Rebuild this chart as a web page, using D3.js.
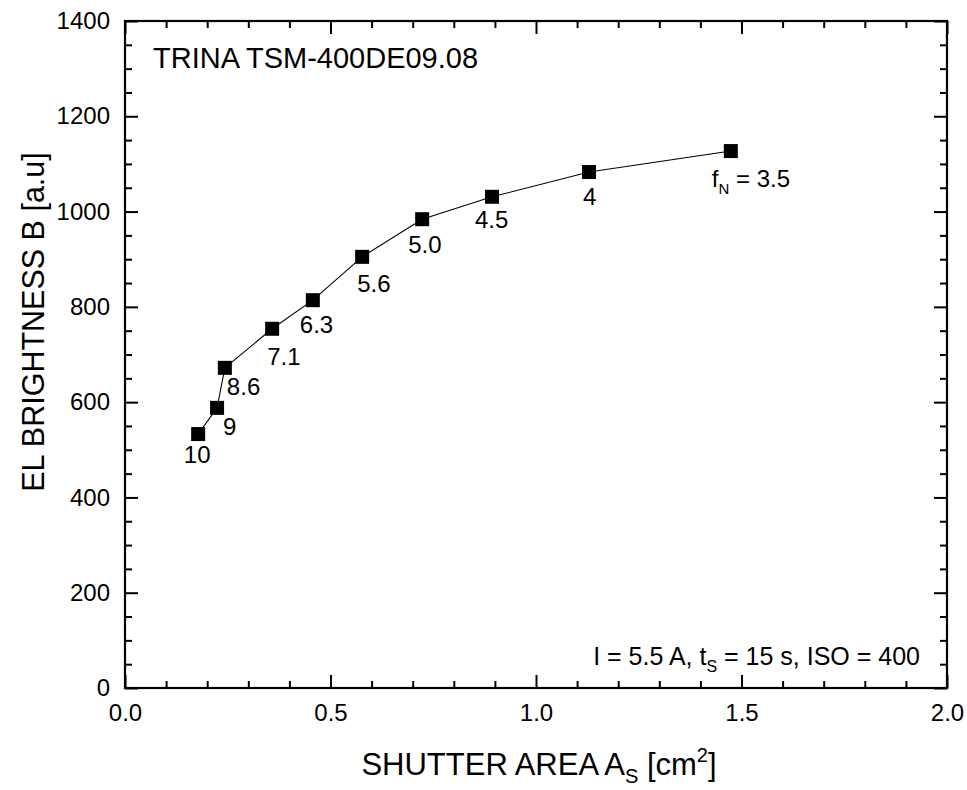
<!DOCTYPE html>
<html>
<head>
<meta charset="utf-8">
<script src="https://cdn.jsdelivr.net/npm/d3@7"></script>
<style>
  body { margin: 0; background: #fff; }
  text { font-family: "Liberation Sans", Arial, sans-serif; fill: #000; }
</style>
</head>
<body>
<svg width="967" height="790"></svg>
<script>
// data
const shutterArea = [0.178, 0.224, 0.243, 0.358, 0.457, 0.577, 0.723, 0.893, 1.129, 1.474];
const brightness  = [533, 588, 672, 754, 814, 905, 984, 1031, 1083, 1127];
const fNumbers    = ["10", "9", "8.6", "7.1", "6.3", "5.6", "5.0", "4.5", "4", "3.5"];
const xTicks = [0.0, 0.5, 1.0, 1.5, 2.0];
const yTicks = [0, 200, 400, 600, 800, 1000, 1200, 1400];

// label offsets from the marker (px)
const labelDx = [-1, 6, 2, -5, -13, -5, -14, -17, -6, -19];
const labelDy = [29, 27, 27, 36, 33, 35, 34, 31, 33, 36];
const labelAnchor = ["middle", "start", "start", "start", "start", "start", "start", "start", "start", "start"];

const svg = d3.select("svg");
const plotLeft = 125, plotRight = 947, plotTop = 21, plotBottom = 688;

const x = d3.scaleLinear().domain([0, 2]).range([plotLeft, plotRight]);
const y = d3.scaleLinear().domain([0, 1400]).range([plotBottom, plotTop]);

const minorX = d3.range(0, 2.0001, 0.1).filter(v => Math.abs(v * 2 - Math.round(v * 2)) > 1e-6);
const minorY = d3.range(0, 1400.1, 50).filter(v => v % 200 !== 0);

// axes: major ticks with labels, minor ticks without, ticks pointing inward
function styleAxis(g) {
  g.select(".domain").remove();
  g.selectAll(".tick line").attr("stroke", "#000").attr("stroke-width", 2);
  g.selectAll(".tick text").style("font-size", "24px").attr("fill", "#000")
    .style("font-family", "'Liberation Sans', Arial, sans-serif");
}

svg.append("g").attr("transform", `translate(0,${plotBottom})`)
  .call(d3.axisBottom(x).tickValues(xTicks).tickFormat(d3.format(".1f")).tickSize(-13).tickPadding(16))
  .call(styleAxis);
svg.append("g").attr("transform", `translate(0,${plotBottom})`)
  .call(d3.axisBottom(x).tickValues(minorX).tickFormat("").tickSize(-7))
  .call(styleAxis);
svg.append("g").attr("transform", `translate(0,${plotTop})`)
  .call(d3.axisTop(x).tickValues(xTicks).tickFormat("").tickSize(-13))
  .call(styleAxis);
svg.append("g").attr("transform", `translate(0,${plotTop})`)
  .call(d3.axisTop(x).tickValues(minorX).tickFormat("").tickSize(-7))
  .call(styleAxis);

svg.append("g").attr("transform", `translate(${plotLeft},0)`)
  .call(d3.axisLeft(y).tickValues(yTicks).tickFormat(d3.format("d")).tickSize(-13).tickPadding(15))
  .call(styleAxis);
svg.append("g").attr("transform", `translate(${plotLeft},0)`)
  .call(d3.axisLeft(y).tickValues(minorY).tickFormat("").tickSize(-7))
  .call(styleAxis);
svg.append("g").attr("transform", `translate(${plotRight},0)`)
  .call(d3.axisRight(y).tickValues(yTicks).tickFormat("").tickSize(-13))
  .call(styleAxis);
svg.append("g").attr("transform", `translate(${plotRight},0)`)
  .call(d3.axisRight(y).tickValues(minorY).tickFormat("").tickSize(-7))
  .call(styleAxis);

// frame
svg.append("rect")
  .attr("x", plotLeft).attr("y", plotTop)
  .attr("width", plotRight - plotLeft).attr("height", plotBottom - plotTop)
  .attr("fill", "none").attr("stroke", "#000").attr("stroke-width", 2.2);

// series
const points = shutterArea.map((a, i) => ({ a, b: brightness[i], f: fNumbers[i], i }));

svg.append("path")
  .datum(points)
  .attr("fill", "none")
  .attr("stroke", "#000")
  .attr("stroke-width", 1.1)
  .attr("d", d3.line().x(d => x(d.a)).y(d => y(d.b)));

const ms = 14;
svg.append("g").selectAll("rect")
  .data(points)
  .join("rect")
  .attr("x", d => x(d.a) - ms / 2)
  .attr("y", d => y(d.b) - ms / 2)
  .attr("width", ms).attr("height", ms)
  .attr("fill", "#000");

// point labels (f-number)
const lbl = svg.append("g").selectAll("text")
  .data(points)
  .join("text")
  .attr("x", d => x(d.a) + labelDx[d.i])
  .attr("y", d => y(d.b) + labelDy[d.i])
  .attr("text-anchor", d => labelAnchor[d.i])
  .style("font-size", "24px");

lbl.each(function(d) {
  const t = d3.select(this);
  if (d.i === points.length - 1) {
    t.append("tspan").text("f");
    t.append("tspan").text("N").style("font-size", "15px").attr("dy", 7);
    t.append("tspan").text(" = " + d.f).attr("dy", -7);
  } else {
    t.text(d.f);
  }
});

// annotations
svg.append("text")
  .attr("x", 153).attr("y", 68)
  .style("font-size", "29px")
  .text("TRINA TSM-400DE09.08");

const note = svg.append("text")
  .attr("x", 920).attr("y", 665)
  .attr("text-anchor", "end")
  .style("font-size", "25px");
note.append("tspan").text("I = 5.5 A, t");
note.append("tspan").text("S").style("font-size", "16px").attr("dy", 7);
note.append("tspan").text(" = 15 s, ISO = 400").attr("dy", -7);

// axis titles
const xt = svg.append("text")
  .attr("x", 539).attr("y", 775)
  .attr("text-anchor", "middle")
  .style("font-size", "31px");
xt.append("tspan").text("SHUTTER AREA A");
xt.append("tspan").text("S").style("font-size", "20px").attr("dy", 8);
xt.append("tspan").text(" [cm").attr("dy", -8);
xt.append("tspan").text("2").style("font-size", "20px").attr("dy", -13);
xt.append("tspan").text("]").attr("dy", 13);

svg.append("text")
  .attr("transform", "translate(44,322) rotate(-90)")
  .attr("text-anchor", "middle")
  .style("font-size", "30.5px")
  .text("EL BRIGHTNESS B [a.u]");
</script>
</body>
</html>
